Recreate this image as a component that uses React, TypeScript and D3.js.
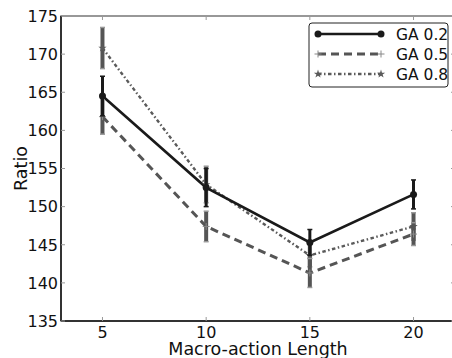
import { useEffect, useRef } from "react";
import * as d3 from "d3";

const lengths = [5, 10, 15, 20];
const seriesNames = ["GA 0.2", "GA 0.5", "GA 0.8"];
const ga02 = [164.5, 152.5, 145.3, 151.6];
const ga02Err = [2.6, 2.5, 1.7, 1.9];
const ga05 = [161.8, 147.4, 141.3, 146.4];
const ga05Err = [2.3, 2.0, 1.9, 1.5];
const ga08 = [170.8, 152.9, 143.6, 147.4];
const ga08Err = [2.7, 2.4, 1.5, 1.8];
const yTicks = [135, 140, 145, 150, 155, 160, 165, 170, 175];

const App = () => {
  const svgRef = useRef<SVGSVGElement>(null);

  useEffect(() => {
    const width = 452;
    const height = 358;
    const m = { left: 61, top: 16, right: -3, bottom: 37 };
    const svg = d3.select(svgRef.current).attr("width", width).attr("height", height);
    svg.selectAll("*").remove();

    const x = d3.scaleLinear().domain([3, 22]).range([m.left, width - m.right]);
    const y = d3.scaleLinear().domain([135, 175]).range([height - m.bottom, m.top]);
    const font = "DejaVu Sans, sans-serif";

    const series = [
      { name: seriesNames[0], vals: ga02, err: ga02Err, color: "#1a1a1a", ebColor: "#1a1a1a", width: 2.6, dash: null, marker: "circle", ebw: 3 },
      { name: seriesNames[1], vals: ga05, err: ga05Err, color: "#555", ebColor: "#555", width: 3, dash: "8,5", marker: "plus", ebw: 4 },
      { name: seriesNames[2], vals: ga08, err: ga08Err, color: "#5a5a5a", ebColor: "#555", width: 2.4, dash: "3.5,2.5,1.5,2.5", marker: "star", ebw: 4 },
    ];

    // frame
    svg.append("rect").attr("x", x(3)).attr("y", y(175)).attr("width", x(22) - x(3)).attr("height", y(135) - y(175))
      .attr("fill", "none").attr("stroke", "#777").attr("stroke-width", 1.5);
    svg.append("line").attr("x1", x(3)).attr("x2", x(3)).attr("y1", y(175)).attr("y2", y(135)).attr("stroke", "#111").attr("stroke-width", 1.5);
    svg.append("line").attr("x1", x(3)).attr("x2", x(22)).attr("y1", y(135)).attr("y2", y(135)).attr("stroke", "#111").attr("stroke-width", 1.5);

    // ticks
    yTicks.forEach((t) => {
      svg.append("line").attr("x1", x(3)).attr("x2", x(3) + 4).attr("y1", y(t)).attr("y2", y(t)).attr("stroke", "#999");
      svg.append("line").attr("x1", x(22)).attr("x2", x(22) - 4).attr("y1", y(t)).attr("y2", y(t)).attr("stroke", "#999");
      svg.append("text").attr("x", x(3) - 3).attr("y", y(t)).attr("dy", "0.36em").attr("text-anchor", "end")
        .attr("font-family", font).attr("font-size", 16).attr("fill", "#111").text(t);
    });
    lengths.forEach((t) => {
      svg.append("line").attr("x1", x(t)).attr("x2", x(t)).attr("y1", y(135)).attr("y2", y(135) - 4).attr("stroke", "#999");
      svg.append("line").attr("x1", x(t)).attr("x2", x(t)).attr("y1", y(175)).attr("y2", y(175) + 4).attr("stroke", "#999");
      svg.append("text").attr("x", x(t)).attr("y", 338).attr("text-anchor", "middle")
        .attr("font-family", font).attr("font-size", 16).attr("fill", "#111").text(t);
    });

    svg.append("text").attr("transform", `translate(27,${(y(135) + y(175)) / 2}) rotate(-90)`)
      .attr("text-anchor", "middle").attr("font-family", font).attr("font-size", 17.5).attr("fill", "#111").text("Ratio");
    svg.append("text").attr("x", 258).attr("y", 355).attr("text-anchor", "middle")
      .attr("font-family", font).attr("font-size", 17.5).attr("fill", "#111").text("Macro-action Length");

    const line = d3.line<number>().x((_, i) => x(lengths[i])).y((d) => y(d));
    const star = d3.symbol().type(d3.symbolStar).size(22);

    const drawMarker = (g: any, cx: number, cy: number, s: any) => {
      if (s.marker === "circle") {
        g.append("circle").attr("cx", cx).attr("cy", cy).attr("r", 3.5).attr("fill", s.color);
      } else if (s.marker === "plus") {
        g.append("path").attr("d", `M${cx - 3.5},${cy}H${cx + 3.5}M${cx},${cy - 3.5}V${cy + 3.5}`)
          .attr("stroke", "#888").attr("stroke-width", 1);
      } else {
        g.append("path").attr("d", star).attr("transform", `translate(${cx},${cy})`).attr("fill", s.color);
      }
    };

    // gray series first, black on top
    const order = [2, 1, 0];
    order.forEach((k) => {
      const s = series[k];
      const g = svg.append("g");
      g.append("path").attr("d", line(s.vals)).attr("fill", "none").attr("stroke", s.color)
        .attr("stroke-width", s.width).attr("stroke-dasharray", s.dash);
    });
    order.forEach((k) => {
      const s = series[k];
      const g = svg.append("g");
      s.vals.forEach((v, i) => {
        const cx = x(lengths[i]);
        g.append("line").attr("x1", cx).attr("x2", cx).attr("y1", y(v - s.err[i])).attr("y2", y(v + s.err[i]))
          .attr("stroke", s.ebColor).attr("stroke-width", s.ebw);
        [v - s.err[i], v + s.err[i]].forEach((e) => {
          g.append("line").attr("x1", cx - 2.5).attr("x2", cx + 2.5).attr("y1", y(e)).attr("y2", y(e))
            .attr("stroke", k === 0 ? "#1a1a1a" : "#999").attr("stroke-width", 1.5);
        });
        drawMarker(g, cx, y(v), s);
      });
    });

    // legend
    const lg = svg.append("g");
    lg.append("rect").attr("x", 309).attr("y", 23).attr("width", 139).attr("height", 64).attr("rx", 3)
      .attr("fill", "white").attr("stroke", "#222").attr("stroke-width", 1);
    series.forEach((s, i) => {
      const ly = 34 + i * 20;
      lg.append("line").attr("x1", 318).attr("x2", 381).attr("y1", ly).attr("y2", ly).attr("stroke", s.color)
        .attr("stroke-width", s.width).attr("stroke-dasharray", s.dash);
      drawMarker(lg, 318, ly, s);
      drawMarker(lg, 381, ly, s);
      lg.append("text").attr("x", 396).attr("y", ly).attr("dy", "0.36em").attr("font-family", font)
        .attr("font-size", 15.5).attr("fill", "#111").text(s.name);
    });
  }, []);

  return (
    <div style={{ position: "fixed", left: 0, top: 0, width: 452, height: 358, background: "white" }}>
      <svg ref={svgRef}></svg>
    </div>
  );
};

export default App;
